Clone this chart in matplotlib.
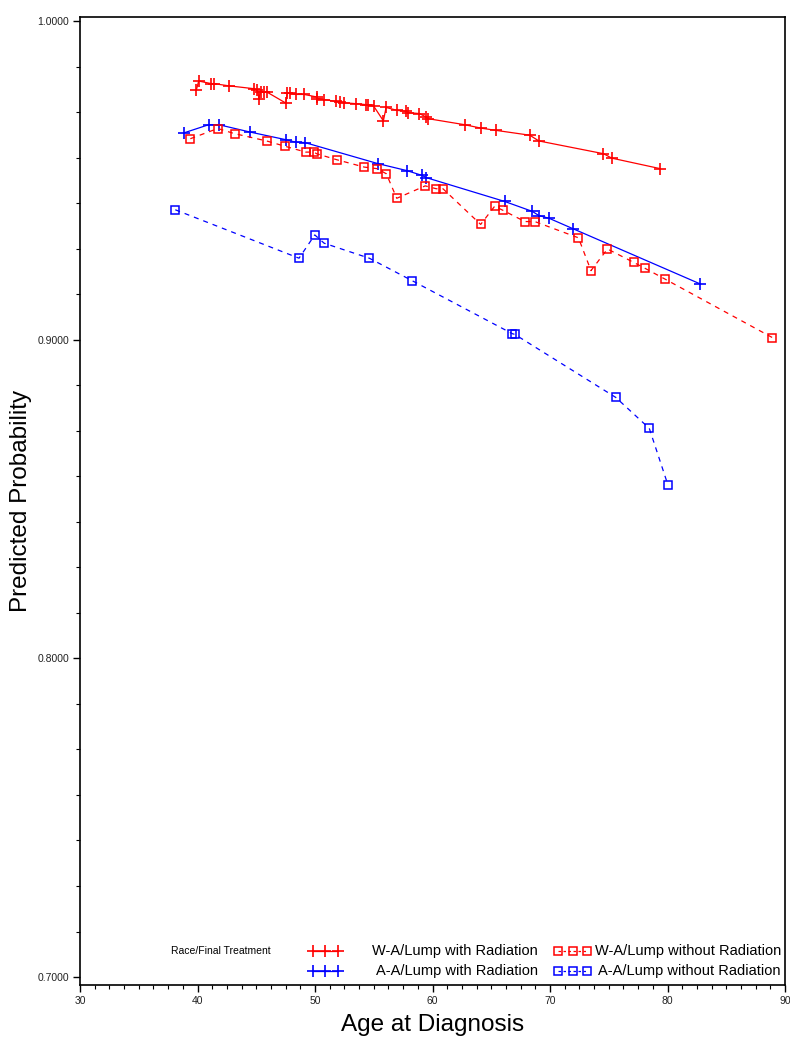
import matplotlib
matplotlib.use("Agg")
import matplotlib.pyplot as plt
from matplotlib.ticker import MultipleLocator, AutoMinorLocator, FormatStrFormatter

# W-A / Lump with Radiation
wa_rad_age = [39.91, 40.10, 41.16, 41.38, 42.66, 44.80, 45.09, 45.23, 45.37, 45.65,
              45.88, 47.51, 47.65, 47.87, 48.36, 49.07, 50.15, 50.21, 50.78, 51.78,
              52.12, 52.43, 53.48, 54.34, 54.48, 55.00, 55.82, 56.05, 56.99, 57.75,
              57.90, 58.89, 59.46, 59.61, 62.73, 64.16, 65.44, 68.28, 69.05, 74.55,
              75.26, 79.39]
wa_rad_prob = [0.9785, 0.9812, 0.9804, 0.9804, 0.9797, 0.9788, 0.9783, 0.9757, 0.9778, 0.9778,
               0.9778, 0.9743, 0.9776, 0.9773, 0.9770, 0.9770, 0.9762, 0.9757, 0.9754, 0.9748,
               0.9746, 0.9744, 0.9741, 0.9738, 0.9736, 0.9733, 0.9687, 0.9729, 0.9720, 0.9717,
               0.9713, 0.9710, 0.9699, 0.9694, 0.9675, 0.9664, 0.9657, 0.9642, 0.9624, 0.9584,
               0.9570, 0.9537]

# A-A / Lump with Radiation
aa_rad_age = [38.82, 40.96, 41.81, 44.46, 47.51, 48.36, 49.13, 55.34, 57.81, 59.10,
              59.46, 66.15, 68.49, 69.05, 69.94, 71.99, 82.80]
aa_rad_prob = [0.9649, 0.9675, 0.9675, 0.9652, 0.9628, 0.9620, 0.9619, 0.9553, 0.9531, 0.9516,
               0.9509, 0.9434, 0.9403, 0.9390, 0.9381, 0.9348, 0.9175]

# W-A / Lump without Radiation
wa_norad_age = [39.39, 41.72, 43.15, 45.88, 47.48, 49.21, 49.92, 50.13, 51.86, 54.19,
                55.28, 56.07, 56.96, 59.38, 60.32, 60.89, 64.10, 65.29, 66.01, 67.86,
                68.71, 72.42, 73.49, 74.89, 77.11, 78.10, 79.76, 88.92]
wa_norad_prob = [0.9631, 0.9663, 0.9647, 0.9624, 0.9607, 0.9589, 0.9589, 0.9584, 0.9565, 0.9542,
                 0.9537, 0.9521, 0.9444, 0.9483, 0.9474, 0.9474, 0.9362, 0.9419, 0.9406, 0.9371,
                 0.9371, 0.9320, 0.9217, 0.9285, 0.9243, 0.9224, 0.9191, 0.9007]

# A-A / Lump without Radiation
aa_norad_age = [38.11, 48.64, 49.98, 50.78, 54.62, 58.24, 66.80, 67.00, 75.60, 78.45, 80.04]
aa_norad_prob = [0.9408, 0.9256, 0.9329, 0.9303, 0.9256, 0.9186, 0.9019, 0.9017, 0.8819, 0.8722, 0.8544]

legend_title = "Race/Final Treatment"
labels = ["W-A/Lump with Radiation", "A-A/Lump with Radiation",
          "W-A/Lump without Radiation", "A-A/Lump without Radiation"]

RED = "#ff0000"
BLUE = "#0000ff"
plt.rcParams["font.family"] = ["Liberation Sans", "DejaVu Sans"]

fig = plt.figure(figsize=(7.9, 10.5), dpi=100)
ax = fig.add_axes([80 / 790, 65 / 1050, 705 / 790, 968 / 1050])

plus_style = dict(marker="+", markersize=8, markeredgewidth=1.2, linewidth=0.9)
sq_style = dict(marker="s", markersize=6, markeredgewidth=1.1, markerfacecolor="none",
                linewidth=0.9, dashes=(4, 4))

ax.plot(wa_rad_age, wa_rad_prob, color=RED, **plus_style)
ax.plot(aa_rad_age, aa_rad_prob, color=BLUE, **plus_style)
ax.plot(wa_norad_age, wa_norad_prob, color=RED, **sq_style)
ax.plot(aa_norad_age, aa_norad_prob, color=BLUE, **sq_style)

ax.set_xlim(30, 90)
ax.set_ylim(0.6975, 1.0013)
ax.xaxis.set_major_locator(MultipleLocator(10))
ax.xaxis.set_minor_locator(AutoMinorLocator(8))
ax.yaxis.set_major_locator(MultipleLocator(0.1))
ax.yaxis.set_minor_locator(AutoMinorLocator(7))
ax.yaxis.set_major_formatter(FormatStrFormatter("%.4f"))

ax.tick_params(which="major", direction="out", length=5, width=1, pad=3, labelsize=7.5,
               labelcolor="#222222")
ax.tick_params(which="minor", direction="out", length=3, width=0.8)
for sp in ax.spines.values():
    sp.set_linewidth(1.2)

ax.set_xlabel("Age at Diagnosis", fontsize=17.5, labelpad=6)
ax.set_ylabel("Predicted Probability", fontsize=17.5, labelpad=4)

# legend drawn by hand inside the frame
tr = ax.transAxes
rows = [0.0351, 0.0149]
ax.text(0.1284, rows[0], legend_title, transform=tr, fontsize=7.5, va="center", ha="left")
hx1 = [0.3305, 0.3482, 0.366]
hx2 = [0.678, 0.6986, 0.7191]
for i, col in enumerate([RED, BLUE]):
    y = rows[i]
    ax.plot(hx1, [y] * 3, color=col, transform=tr, clip_on=False, **plus_style)
    ax.text(0.6492, y, labels[i], transform=tr, fontsize=10.5, va="center", ha="right")
    ax.plot(hx2, [y] * 3, color=col, transform=tr, clip_on=False,
            marker="s", markersize=6, markeredgewidth=1.1, markerfacecolor="none",
            linewidth=0.9, dashes=(2, 2))
    ax.text(0.994, y, labels[i + 2], transform=tr, fontsize=10.5, va="center", ha="right")

fig.savefig("out.png", dpi=100)
